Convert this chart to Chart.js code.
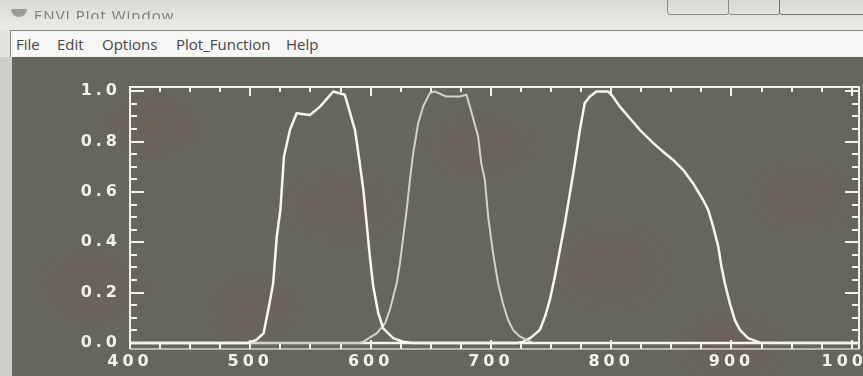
<!DOCTYPE html>
<html>
<head>
<meta charset="utf-8">
<title>ENVI Plot Window</title>
<script src="https://cdn.jsdelivr.net/npm/chart.js@4.4.1/dist/chart.umd.min.js"></script>
<style>
  html, body { margin: 0; padding: 0; }
  body { width: 863px; height: 376px; overflow: hidden; position: relative; background: #e2e2de; font-family: "Open Sans", sans-serif; }
  #titlebar { position: absolute; left: 0; top: 0; width: 863px; height: 30px; background: linear-gradient(#d9d9d5, #ebebe8); }
  #title { position: absolute; left: 34px; top: 11px; height: 8px; overflow: hidden; width: 200px; }
  #title span { position: relative; top: -7px; font-size: 15px; line-height: 16px; color: #7a7a78; letter-spacing: 1px; filter: blur(0.5px); }
  #icon { position: absolute; left: 11px; top: 9px; width: 16px; height: 8px; border-radius: 0 0 8px 8px; background: #9a9a96; }
  .btn { position: absolute; top: -12px; height: 25px; border: 1px solid #8d8d8a; border-radius: 3px; }
  #menubar { position: absolute; left: 10px; top: 30px; width: 853px; height: 26px; border-top: 1px solid #858583; border-left: 1px solid #858583; background: #f6f6f4; }
  #menubar span { position: absolute; top: 3px; font-size: 15px; line-height: 20px; color: #474747; }
  #strip { position: absolute; left: 0; top: 57px; width: 12px; height: 319px; background: #cfcfca; }
  #plot { position: absolute; left: 12px; top: 57px; width: 851px; height: 319px;
    background:
      radial-gradient(ellipse 60px 40px at 140px 70px, rgba(125,80,78,0.35), transparent),
      radial-gradient(ellipse 70px 50px at 80px 230px, rgba(125,80,78,0.30), transparent),
      radial-gradient(ellipse 60px 45px at 240px 250px, rgba(125,80,78,0.30), transparent),
      radial-gradient(ellipse 80px 50px at 330px 150px, rgba(125,80,78,0.25), transparent),
      radial-gradient(ellipse 70px 45px at 470px 90px, rgba(125,80,78,0.28), transparent),
      radial-gradient(ellipse 80px 60px at 600px 210px, rgba(125,80,78,0.25), transparent),
      radial-gradient(ellipse 70px 50px at 720px 290px, rgba(125,80,78,0.28), transparent),
      radial-gradient(ellipse 70px 50px at 790px 140px, rgba(125,80,78,0.25), transparent),
      #66675c; }
  canvas { position: absolute; left: 0; top: 0; }
</style>
</head>
<body>
<div id="titlebar">
  <div id="icon"></div>
  <div id="title"><span>ENVI Plot Window</span></div>
  <div class="btn" style="left:667px;width:60px"></div>
  <div class="btn" style="left:728px;width:50px"></div>
  <div class="btn" style="left:779px;width:100px;border-color:#6f6f6c"></div>
</div>
<div id="menubar">
  <span style="left:5px">File</span>
  <span style="left:46px">Edit</span>
  <span style="left:91px">Options</span>
  <span style="left:165px">Plot_Function</span>
  <span style="left:275px">Help</span>
</div>
<div id="strip"></div>
<div id="plot"><canvas id="chart" width="851" height="319"></canvas></div>
<script>
// Data definitions (wavelength in nm, relative response)
const band1Wl  = [400, 498, 505, 511, 516, 519, 522, 525, 528, 533, 538.5, 549.6, 558, 569, 578.6, 587, 591, 594, 596.7, 599.4, 602.2, 606.4, 610.5, 618.8, 627, 635, 1005];
const band1Val = [0, 0, 0.012, 0.038, 0.158, 0.237, 0.423, 0.529, 0.741, 0.847, 0.913, 0.906, 0.939, 0.999, 0.986, 0.847, 0.714, 0.608, 0.476, 0.343, 0.224, 0.118, 0.058, 0.019, 0.005, 0, 0];

const band2Wl  = [400, 590, 594, 605, 612, 616, 621.7, 624.4, 627.2, 630, 632.7, 635.4, 639.6, 643.7, 649.3, 653.4, 663, 674, 679.7, 682.5, 689.4, 692, 695, 697.7, 701.8, 706, 710, 714.3, 718.4, 724, 729.5, 735, 1005];
const band2Val = [0, 0, 0.005, 0.038, 0.078, 0.131, 0.237, 0.317, 0.423, 0.529, 0.648, 0.754, 0.874, 0.94, 0.993, 0.999, 0.979, 0.979, 0.986, 0.94, 0.82, 0.714, 0.648, 0.503, 0.357, 0.237, 0.158, 0.091, 0.052, 0.026, 0.012, 0, 0];

const band3Wl  = [400, 722, 727, 733, 740.7, 745, 749, 753.2, 757.4, 761.5, 764.3, 767.1, 769.8, 774, 778, 782.3, 787.8, 797.5, 800.3, 807.2, 815.5, 823.8, 835, 843.2, 851.5, 859.8, 868, 876.4, 880.6, 884.8, 889, 891.7, 894.5, 898.6, 902.8, 907, 913.8, 923.6, 1005];
const band3Val = [0, 0, 0.005, 0.02, 0.052, 0.105, 0.171, 0.264, 0.37, 0.476, 0.555, 0.635, 0.714, 0.847, 0.953, 0.979, 0.999, 0.999, 0.986, 0.939, 0.893, 0.847, 0.794, 0.76, 0.727, 0.688, 0.635, 0.568, 0.529, 0.462, 0.383, 0.303, 0.237, 0.158, 0.091, 0.052, 0.019, 0.001, 0];

const xTickValues = [400, 500, 600, 700, 800, 900, 1000];
const yTickValues = [0, 0.2, 0.4, 0.6, 0.8, 1.0];

const lineColor = '#f6f6ec';
const axisColor = '#f2f2e6';

function toPoints(xs, ys) {
  return xs.map((x, i) => ({ x: x, y: ys[i] }));
}

// Draws the ENVI style box with inward ticks, using the chart's own scales
const enviAxes = {
  id: 'enviAxes',
  beforeDraw(chart) {
    chart.ctx.letterSpacing = '4px';
  },
  afterDraw(chart) {
    const ctx = chart.ctx;
    const a = chart.chartArea;
    const x = chart.scales.x;
    const y = chart.scales.y;
    ctx.save();
    ctx.letterSpacing = '0px';
    ctx.strokeStyle = axisColor;
    ctx.lineWidth = 2;
    ctx.beginPath();
    ctx.moveTo(a.left, a.bottom);
    ctx.lineTo(a.left, a.top);
    ctx.lineTo(a.right, a.top);
    ctx.lineTo(a.right, a.bottom);
    ctx.stroke();
    // bottom frame line is faint in the scan
    ctx.globalAlpha = 0.75;
    ctx.lineWidth = 1.5;
    ctx.beginPath();
    ctx.moveTo(a.left, a.bottom);
    ctx.lineTo(a.right, a.bottom);
    ctx.stroke();
    ctx.globalAlpha = 1;
    ctx.lineWidth = 2;
    ctx.beginPath();
    for (let v = 400; v <= 1000; v += 25) {
      const px = Math.round(x.getPixelForValue(v));
      const len = v % 100 === 0 ? 9 : 5;
      ctx.moveTo(px, a.bottom);
      ctx.lineTo(px, a.bottom - len);
      ctx.moveTo(px, a.top);
      ctx.lineTo(px, a.top + len);
    }
    for (let i = 0; i <= 20; i++) {
      const py = Math.round(y.getPixelForValue(i * 0.05));
      const len = i % 4 === 0 ? 14 : 7;
      ctx.moveTo(a.left, py);
      ctx.lineTo(a.left + len, py);
      ctx.moveTo(a.right, py);
      ctx.lineTo(a.right - len, py);
    }
    ctx.stroke();
    ctx.restore();
  }
};

const labelFont = { family: 'DejaVu Sans', size: 16, weight: 'bold' };

new Chart(document.getElementById('chart').getContext('2d'), {
  type: 'line',
  data: {
    datasets: [
      { label: 'band 1', data: toPoints(band1Wl, band1Val), borderColor: lineColor, borderWidth: 2.5 },
      { label: 'band 2', data: toPoints(band2Wl, band2Val), borderColor: '#d2d3c6', borderWidth: 2 },
      { label: 'band 3', data: toPoints(band3Wl, band3Val), borderColor: lineColor, borderWidth: 2.5 }
    ]
  },
  options: {
    responsive: false,
    animation: false,
    devicePixelRatio: 1,
    layout: { padding: { top: 30, right: 4, bottom: 0, left: 0 } },
    elements: {
      point: { radius: 0 },
      line: { tension: 0, borderJoinStyle: 'round', fill: false }
    },
    plugins: {
      legend: { display: false },
      tooltip: { enabled: false }
    },
    scales: {
      x: {
        type: 'linear',
        min: 400,
        max: 1006,
        grid: { display: false, drawTicks: false },
        border: { display: false },
        ticks: { color: axisColor, font: labelFont, padding: 3, maxRotation: 0, callback: v => String(v) },
        afterBuildTicks: s => { s.ticks = xTickValues.map(v => ({ value: v })); },
        afterFit: s => { s.height = 27; s.paddingLeft = 0; s.paddingRight = 0; }
      },
      y: {
        type: 'linear',
        min: -0.024,
        max: 1.017,
        grid: { display: false, drawTicks: false },
        border: { display: false },
        ticks: { color: axisColor, font: labelFont, padding: 9, callback: v => v.toFixed(1) },
        afterBuildTicks: s => { s.ticks = yTickValues.map(v => ({ value: v })); },
        afterFit: s => { s.width = 118; s.paddingTop = 0; s.paddingBottom = 0; }
      }
    }
  },
  plugins: [enviAxes]
});
</script>
</body>
</html>
